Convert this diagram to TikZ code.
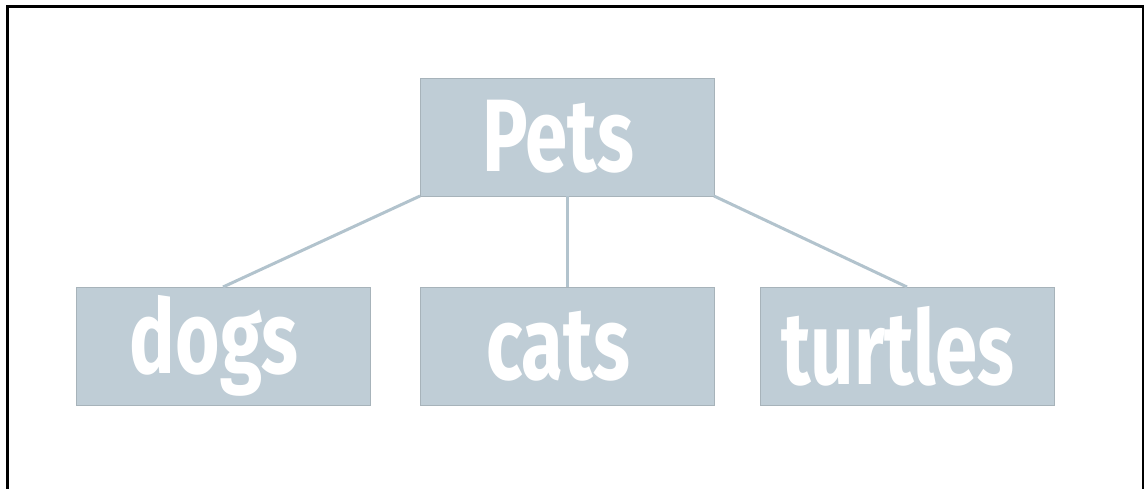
\documentclass[tikz,border=0pt]{standalone}
\usepackage{fontspec}
\setmainfont{Fira Sans}
\usepackage{tikz}
\usetikzlibrary{positioning}

\definecolor{boxfill}{HTML}{BFCDD6}
\definecolor{boxline}{HTML}{A7B3BA}
\definecolor{linkline}{HTML}{B2C3CD}

\newcommand{\petlabel}[1]{\scalebox{0.74}[1]{\fontsize{103}{103}\selectfont\bfseries #1}\hspace*{18pt}}

\begin{document}
\begin{tikzpicture}[x=1pt, y=-1pt,
    category/.style={rectangle, draw=boxline, line width=0.8pt, fill=boxfill, text=white,
        minimum width=294pt, minimum height=118pt, inner sep=0pt, outer sep=0pt},
    link/.style={draw=linkline, line width=3pt},
    every node/.style={node distance=91pt}
    ]
    \useasboundingbox (0,0) rectangle (1146,488);
    % frame round the picture
    \draw[line width=2.5pt] (7.5,490) -- (7.5,6.5) -- (1143,6.5) -- (1143,490);

    \node[category] (pets) at (567,137) {\petlabel{Pets}};
    \node[category, below=of pets] (cats) {\petlabel{cats}};
    \node[category, left=50pt of cats] (dogs) {\petlabel{dogs}};
    \node[category, right=46pt of cats] (turtles) {\petlabel{turtles}};

    % links from the root to its children
    \path[link]
    (pets.south west) edge (dogs.north)
    (pets.south) edge (cats.north)
    (pets.south east) edge (turtles.north)
    ;
\end{tikzpicture}
\end{document}
